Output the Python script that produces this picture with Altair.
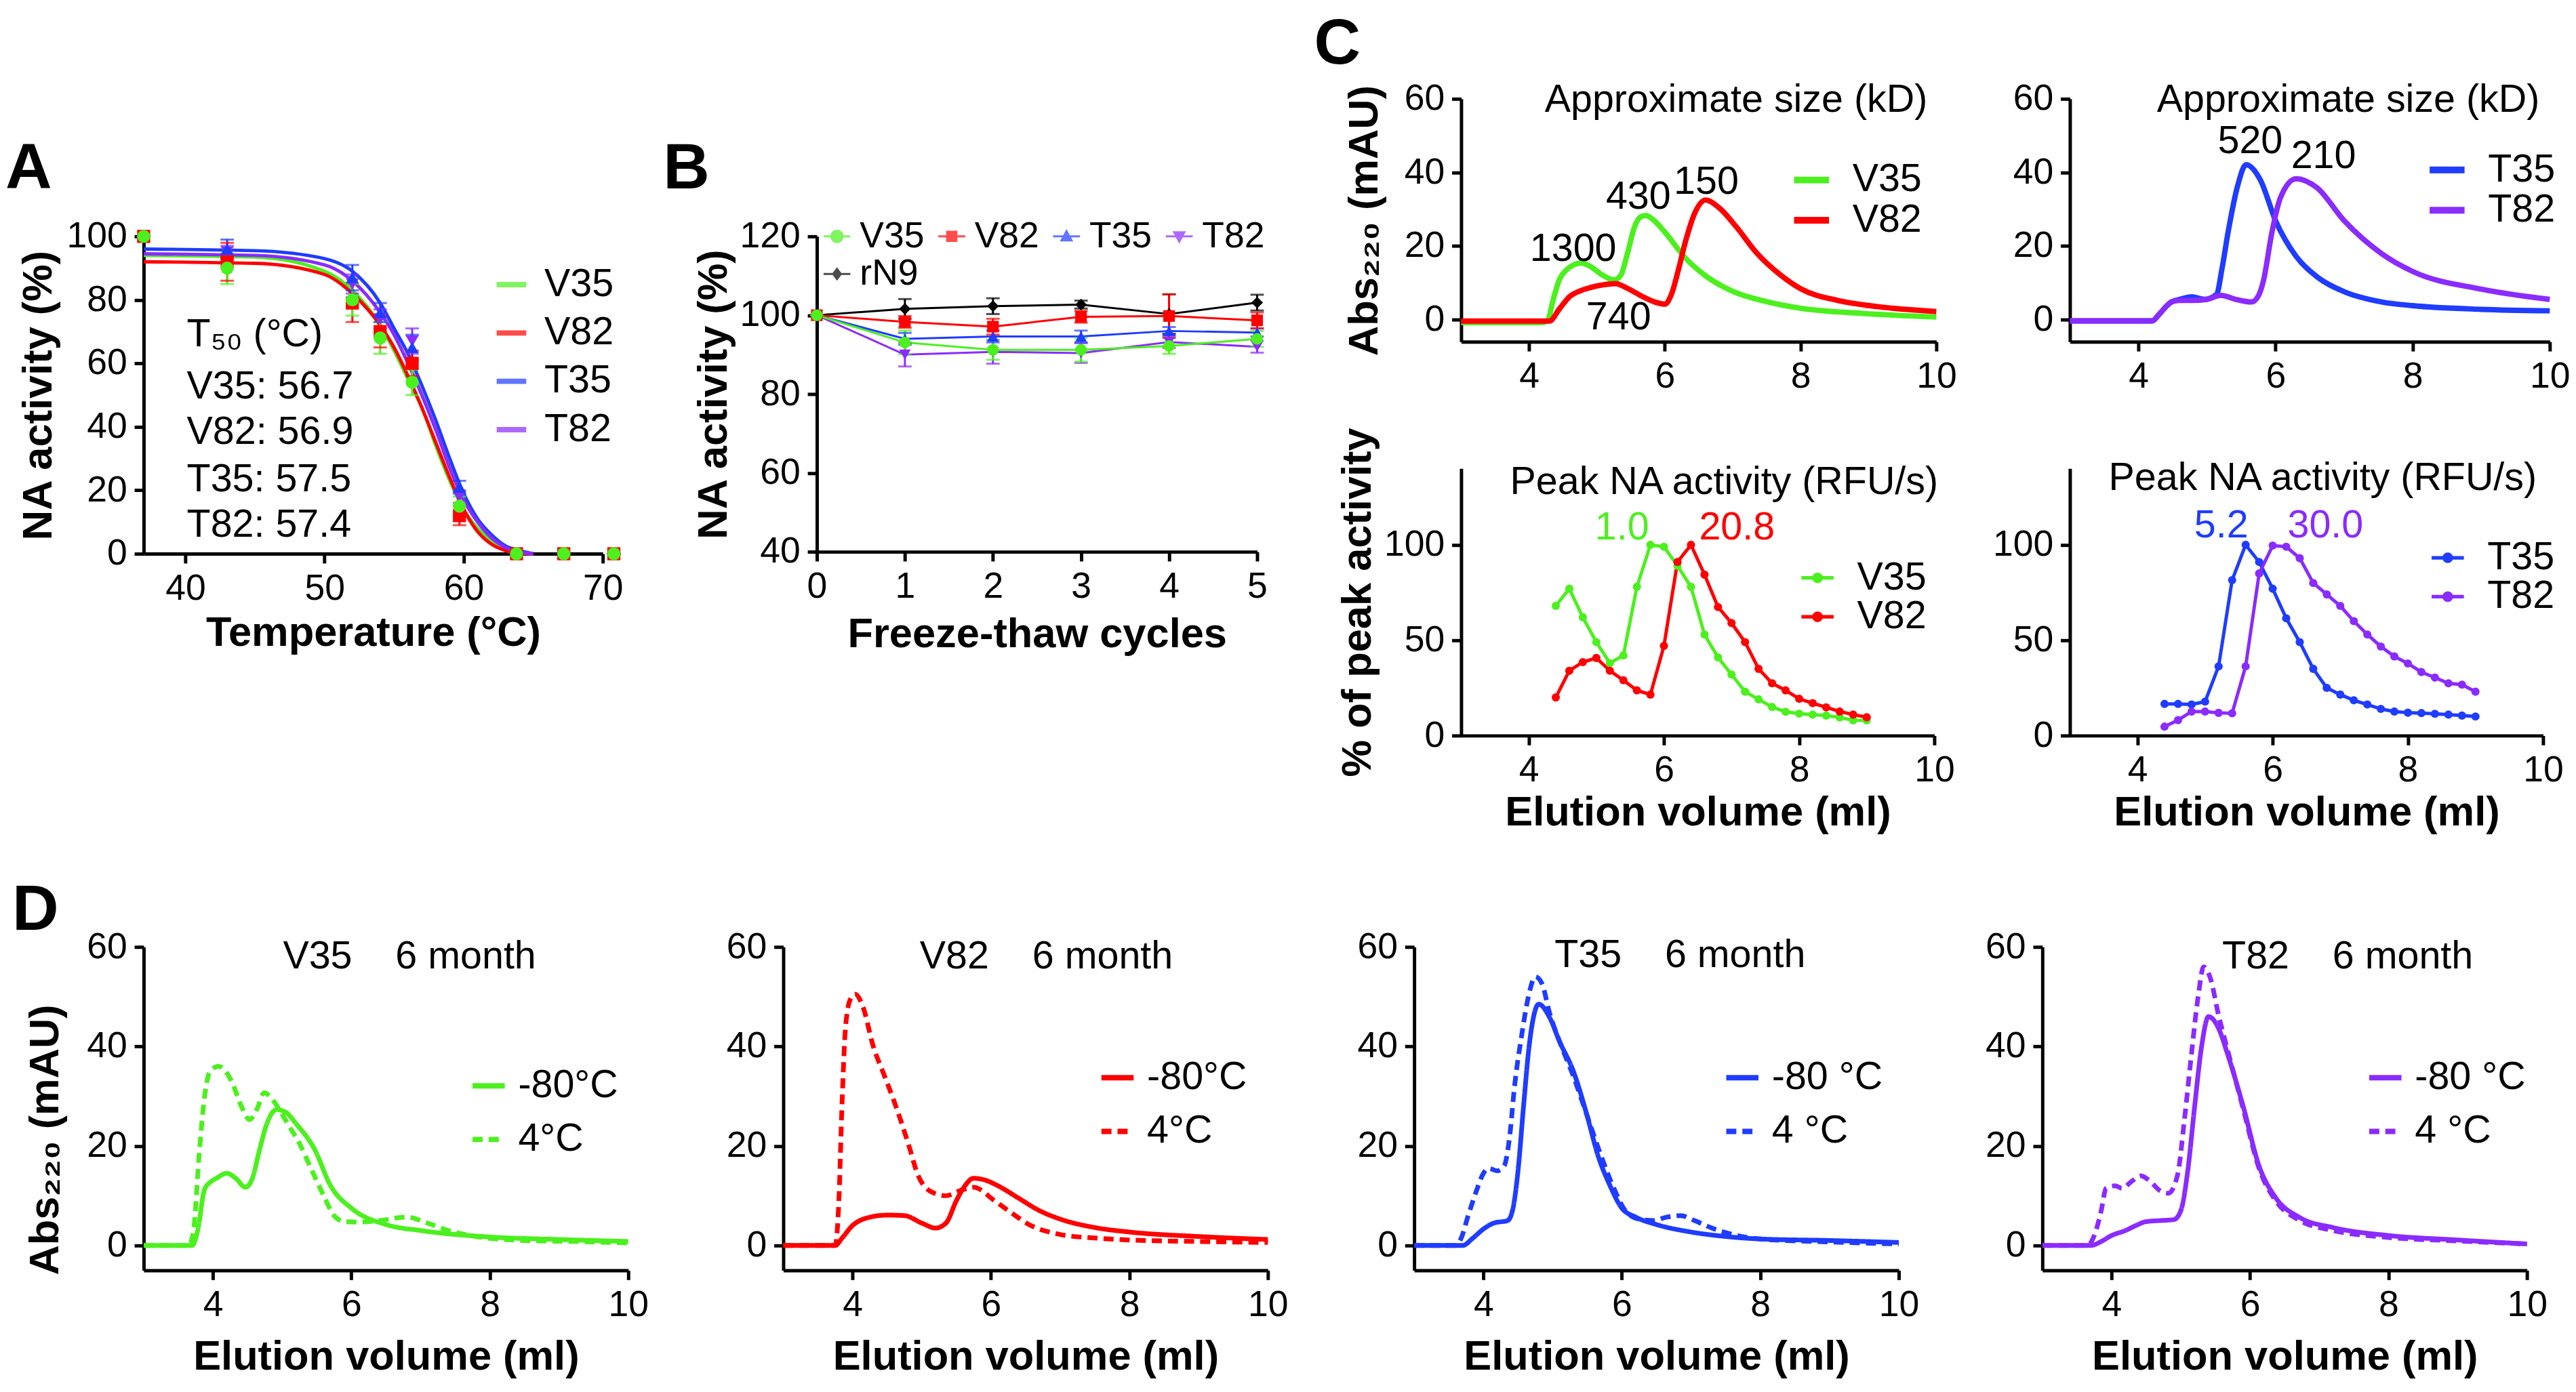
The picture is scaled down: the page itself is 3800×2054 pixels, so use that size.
import math
import altair as alt
import pandas as pd

FONT = "Liberation Sans"
GREEN = "#4CF01E"
RED = "#FF0000"
BLUE = "#1F3CFF"
PURPLE = "#8A2BFF"
BLACK = "#000000"

# ---------------- Panel A : thermal stability ----------------
a_series = ["V35", "V82", "T35", "T82"]
a_colors = [GREEN, RED, BLUE, PURPLE]
a_shapes = ["circle", "square", "triangle-up", "triangle-down"]
a_temp = [37, 43, 52, 54, 56.3, 59.7, 63.8, 67.2, 70.8]
a_v35 = [100, 90, 80, 68, 54, 15, 0, 0, 0]
a_v82 = [100, 92, 79, 70, 60, 12, 0, 0, 0]
a_t35 = [100, 96, 87, 76, 65, 21, 0, 0, 0]
a_t82 = [100, 95, 85, 74, 67, 18, 0, 0, 0]
a_v35_err = [0, 5, 5, 5, 4, 3, 0, 0, 0]
a_v82_err = [0, 6, 6, 5, 4, 3, 0, 0, 0]
a_t35_err = [0, 3, 4, 3, 4, 2, 0, 0, 0]
a_t82_err = [0, 2, 3, 3, 4, 2, 0, 0, 0]
a_fit_t = [37, 45, 50, 52, 54, 55, 56, 57, 58, 59, 60, 61, 62, 63, 64, 65]
a_fit_v35 = [94, 93.5, 89, 83, 72, 64, 55, 46, 34, 23, 14, 8, 4, 1.5, 0.5, 0]
a_fit_v82 = [92, 91.5, 88, 82, 72, 65, 56, 46, 35, 24, 14, 7, 3, 1, 0, 0]
a_fit_t35 = [96, 95.5, 93, 89, 79, 71, 63, 53, 42, 30, 19, 11, 6, 2.5, 1, 0]
a_fit_t82 = [94.5, 94, 91, 86, 76, 69, 60, 50, 39, 27, 17, 10, 5, 2, 0.5, 0]
a_text = ["T\u2085\u2080 (\u00b0C)", "V35: 56.7", "V82: 56.9", "T35: 57.5", "T82: 57.4"]
a_text_x = [40.1, 40.1, 40.1, 40.1, 40.1]
a_text_y = [69, 52.6, 38.3, 23.3, 8.9]

# ---------------- Panel B : freeze-thaw ----------------
b_series = ["V35", "V82", "T35", "T82", "rN9"]
b_colors = [GREEN, RED, BLUE, PURPLE, BLACK]
b_shapes = ["circle", "square", "triangle-up", "triangle-down", "diamond"]
b_cycles = [0, 1, 2, 3, 4, 5]
b_v35 = [100, 93.1, 91.2, 91.2, 92.2, 94.0]
b_v82 = [100, 98.3, 97.1, 99.6, 99.8, 98.7]
b_t35 = [100, 94.0, 94.6, 94.6, 96.0, 95.6]
b_t82 = [100, 90.0, 90.7, 90.4, 93.2, 92.0]
b_rn9 = [100, 101.6, 102.3, 102.7, 100.3, 103.2]
b_v35_err = [0, 3, 2.5, 3, 2, 2]
b_v82_err = [0, 1.5, 2, 1.5, 5.5, 2]
b_t35_err = [0, 1.5, 1.5, 1.5, 1, 1]
b_t82_err = [0, 3, 3, 2.5, 1.5, 1.5]
b_rn9_err = [0, 2.5, 2, 1, 5, 2]

# ---------------- Panel C : SEC traces (top) ----------------
ct_v35_x = [3, 4.2, 4.28, 4.35, 4.45, 4.55, 4.65, 4.77, 4.9, 5.05, 5.25, 5.35, 5.45, 5.55, 5.65, 5.72, 5.85, 6.0, 6.3, 6.6, 7.0, 7.5, 8.0, 8.9, 10]
ct_v35_y = [-0.8, -0.8, 0, 5, 11, 13.5, 14.8, 15.4, 14.5, 12.5, 10.8, 12, 18, 25, 28, 28.3, 26.8, 23.8, 16.8, 11.9, 7.7, 4.9, 3.1, 1.7, 0.7]
ct_v82_x = [3, 4.3, 4.45, 4.6, 4.75, 4.9, 5.1, 5.27, 5.45, 5.67, 5.85, 6.0, 6.1, 6.2, 6.3, 6.45, 6.6, 6.8, 7.05, 7.35, 7.7, 8.0, 8.55, 9.15, 10]
ct_v82_y = [-0.4, -0.4, 3, 6.3, 7.8, 8.7, 9.5, 9.8, 8.5, 6.3, 4.8, 4.2, 7, 13.5, 20.9, 29.3, 32.5, 30.4, 25.3, 18.2, 12.2, 8.4, 5.2, 3.5, 2.2]
ct_t35_x = [3, 4.2, 4.3, 4.4, 4.48, 4.6, 4.78, 4.96, 5.14, 5.22, 5.31, 5.45, 5.57, 5.78, 6.0, 6.3, 6.6, 7.0, 7.55, 8.0, 9.0, 10]
ct_t35_y = [-0.35, -0.35, 1.4, 3.5, 4.8, 5.5, 6.2, 5.5, 6.9, 14, 24, 36.6, 42.1, 37.9, 26.9, 17.2, 11.7, 7.6, 4.8, 3.8, 2.8, 2.4]
ct_t82_x = [3, 4.2, 4.3, 4.4, 4.48, 4.6, 4.78, 5.0, 5.2, 5.42, 5.65, 5.75, 5.82, 5.95, 6.07, 6.3, 6.6, 7.0, 7.55, 8.0, 9.0, 10]
ct_t82_y = [-0.35, -0.35, 1.4, 3.5, 4.8, 5.2, 5.2, 5.5, 6.6, 5.5, 4.8, 6.5, 10.3, 24, 33.1, 38.3, 35.9, 26.9, 17.9, 13.1, 8.3, 5.5]
ctl_labels = ["Approximate size (kD)", "1300", "740", "430", "150"]
ctl_lab_x = [7.05, 4.65, 5.32, 5.61, 6.61]
ctl_lab_y = [59.6, 19.1, 0.5, 33.3, 37.2]
ctr_labels = ["Approximate size (kD)", "520", "210"]
ctr_lab_x = [7.06, 5.63, 6.70]
ctr_lab_y = [59.6, 48.4, 44.2]

# ---------------- Panel C : NA activity of fractions (bottom) ----------------
cb_x = [4.4, 4.6, 4.8, 5.0, 5.2, 5.4, 5.6, 5.8, 6.0, 6.2, 6.4, 6.6, 6.8, 7.0, 7.2, 7.4, 7.6, 7.8, 8.0, 8.2, 8.4, 8.6, 8.8, 9.0]
cb_v35 = [68, 77, 62, 49, 38, 42, 78, 100, 99, 89, 78, 53, 41, 32, 23, 19, 15, 12.5, 11.5, 11, 10.5, 9.5, 8, 8]
cb_v82 = [20, 34, 38.5, 40.7, 34, 29, 23.7, 21.5, 47, 91, 100, 84.4, 67.4, 59, 49, 35, 27.4, 23.7, 19.3, 17, 14.8, 12.6, 11, 9.6]
cb_t35 = [16.6, 16.6, 16.3, 17.8, 36.3, 81.5, 100, 91, 77, 61.5, 49, 35, 25, 21.5, 18.5, 16.3, 14, 12.6, 12, 11.8, 11.4, 11, 10.5, 10]
cb_t82 = [4.7, 8.1, 12.6, 12.6, 11.9, 11.7, 36.3, 85, 99.6, 99, 93, 80, 74, 68, 60, 53, 46.7, 41.5, 37.8, 33.3, 30.4, 27.4, 26.7, 23]
cbl_labels = ["Peak NA activity (RFU/s)", "1.0", "20.8"]
cbl_lab_x = [6.89, 5.38, 7.08]
cbl_lab_y = [132.6, 108.8, 108.8]
cbl_lab_c = [BLACK, GREEN, RED]
cbr_labels = ["Peak NA activity (RFU/s)", "5.2", "30.0"]
cbr_lab_x = [6.74, 5.24, 6.78]
cbr_lab_y = [134.8, 110, 110]
cbr_lab_c = [BLACK, BLUE, PURPLE]

# ---------------- Panel D : 6 month storage ----------------
d1_sx = [3, 3.7, 3.78, 3.88, 3.97, 4.05, 4.2, 4.33, 4.47, 4.57, 4.67, 4.78, 4.92, 5.05, 5.2, 5.47, 5.7, 6.0, 6.5, 7.0, 8.0, 9.0, 10]
d1_sy = [0, 0, 3, 11.3, 12.8, 13.5, 14.5, 13.5, 11.7, 13.5, 19, 24.5, 27.3, 26.8, 24.5, 19.3, 12, 7.5, 4.2, 3, 1.7, 1.2, 0.8]
d1_dx = [3, 3.65, 3.72, 3.8, 3.88, 3.96, 4.08, 4.27, 4.41, 4.53, 4.64, 4.74, 4.85, 4.95, 5.1, 5.25, 5.4, 5.6, 5.75, 5.9, 6.1, 6.4, 6.8, 7.1, 7.4, 7.8, 8.5, 9.2, 10]
d1_dy = [0, 0, 3, 18, 30, 35, 36, 33, 28, 25.3, 27.5, 30.7, 29.5, 27.5, 24, 20.5, 16, 10, 6, 4.8, 4.7, 5.0, 5.7, 4.5, 3, 1.8, 1, 0.8, 0.5]
d2_sx = [3, 3.75, 3.85, 4.0, 4.2, 4.5, 4.75, 5.0, 5.2, 5.35, 5.5, 5.6, 5.75, 5.9, 6.1, 6.4, 6.7, 7.0, 7.5, 8.0, 9.0, 10]
d2_sy = [0, 0, 1.5, 4, 5.5, 6.1, 6, 4.5, 3.5, 4.5, 9, 11.5, 13.5, 13.2, 12, 9.5, 7, 5.3, 3.6, 2.7, 1.8, 1.2]
d2_dx = [3, 3.75, 3.8, 3.85, 3.9, 3.97, 4.04, 4.15, 4.3, 4.45, 4.6, 4.8, 4.95, 5.15, 5.35, 5.55, 5.75, 6.05, 6.3, 6.55, 7.0, 7.5, 8.0, 9.0, 10]
d2_dy = [0, 0, 8, 29, 44, 49.5, 50.5, 48, 40, 34.5, 29, 20.7, 14, 10.7, 10, 11, 11.7, 9, 6.5, 4.2, 2.2, 1.5, 1.1, 0.8, 0.6]
d3_sx = [3, 3.7, 3.85, 4.0, 4.15, 4.35, 4.42, 4.5, 4.58, 4.66, 4.8, 4.95, 5.1, 5.3, 5.5, 5.65, 5.82, 6.0, 6.2, 6.5, 7.0, 7.5, 8.0, 9.0, 10]
d3_sy = [0, 0, 1.5, 3.3, 4.5, 5, 7, 15, 28, 40, 48.5, 46, 41, 35, 26, 18.3, 12.3, 7.5, 5.7, 4.2, 2.7, 1.8, 1.3, 1, 0.6]
d3_dx = [3, 3.6, 3.68, 3.78, 3.9, 4.0, 4.08, 4.2, 4.3, 4.38, 4.45, 4.55, 4.65, 4.75, 4.85, 4.95, 5.1, 5.3, 5.5, 5.7, 5.9, 6.05, 6.25, 6.45, 6.65, 6.85, 7.05, 7.3, 7.6, 8.0, 9.0, 10]
d3_dy = [0, 0, 1.5, 6, 11, 14.5, 15.5, 15, 16, 22, 32, 42, 50, 54, 52.5, 47, 41, 34, 26, 18, 11, 7, 5.3, 5, 5.7, 6, 5, 3.5, 2.2, 1.3, 0.7, 0.3]
d4_sx = [3, 3.7, 3.85, 4.0, 4.2, 4.35, 4.5, 4.7, 4.9, 5.0, 5.1, 5.2, 5.3, 5.4, 5.55, 5.67, 5.9, 6.13, 6.37, 6.72, 7.2, 8.0, 9.0, 10]
d4_sy = [0, 0, 0.8, 2, 3, 4, 4.8, 5, 5.2, 7, 15, 28, 40, 46, 43.5, 38.7, 28, 16, 9.6, 5.6, 3.6, 2, 1.1, 0.3]
d4_dx = [3, 3.65, 3.75, 3.85, 3.92, 4.05, 4.15, 4.3, 4.42, 4.55, 4.7, 4.82, 4.95, 5.05, 5.15, 5.25, 5.33, 5.42, 5.55, 5.7, 5.9, 6.13, 6.37, 6.72, 7.2, 8.0, 9.0, 10]
d4_dy = [0, 0, 2, 7, 11.5, 12, 11.5, 13, 14, 13, 11, 10.5, 14, 25, 38, 50, 56, 54, 46, 38, 27.5, 15.5, 9, 5, 3, 1.6, 0.9, 0.3]
d_names = ["V35", "V82", "T35", "T82"]
d_colors = [GREEN, RED, BLUE, PURPLE]
d_text_x = [6.84, 6.80, 6.84, 7.41]
d_text_y = [58, 58, 58.3, 58]
d_legend_labels = [["-80\u00b0C", "4\u00b0C"], ["-80\u00b0C", "4\u00b0C"],
                   ["-80 \u00b0C", "4 \u00b0C"], ["-80 \u00b0C", "4 \u00b0C"]]

# ---------------- helpers ----------------
NB = "\u00a0"
TXT = 58
IND = dict(color="independent", shape="independent", strokeDash="independent")


def axis(values, title=None, **kw):
    base = dict(values=values, title=title, domainColor=BLACK, domainWidth=5,
                tickColor=BLACK, tickWidth=5, tickSize=14,
                labelFont=FONT, labelFontSize=54, labelColor=BLACK, labelPadding=11,
                titleFont=FONT, titleFontSize=62, titleFontWeight="bold", titleColor=BLACK,
                grid=False, labelOverlap=False, labelFlush=False)
    base.update(kw)
    return alt.Axis(**base)


def letter(t, dx, offset):
    return alt.TitleParams(text=t, anchor="start", frame="bounds", font=FONT, fontSize=96,
                           fontWeight="bold", color=BLACK, dx=dx, offset=offset, baseline="bottom")


def long_df(xs_list, ys_list, names, colors, shapes=None, errs=None):
    rows = []
    for i, (xs, ys) in enumerate(zip(xs_list, ys_list)):
        for j, (x, y) in enumerate(zip(xs, ys)):
            r = {"x": x, "y": y, "s": names[i], "c": colors[i], "o": i}
            if shapes is not None:
                r["shp"] = shapes[i]
            if errs is not None:
                r["lo"] = y - errs[i][j]
                r["hi"] = y + errs[i][j]
            rows.append(r)
    return pd.DataFrame(rows)


def text_df(labels, xs, ys, colors=None):
    return pd.DataFrame({"x": xs, "y": ys, "t": labels,
                         "c": colors if colors is not None else [BLACK] * len(labels)})


def poly(points):
    return "M" + "L".join(f"{x:.3f},{y:.3f}" for x, y in points) + "Z"


def stub(w):
    return poly([(-1, -w), (1, -w), (1, w), (-1, w)])


def circle_path(r, n=20):
    return poly([(r * math.cos(2 * math.pi * k / n), r * math.sin(2 * math.pi * k / n)) for k in range(n)])


def hc(*charts, spacing):
    return alt.hconcat(*charts, spacing=spacing).resolve_scale(**IND).resolve_legend(
        color="independent", shape="independent", strokeDash="independent")


def vc(*charts, spacing):
    return alt.vconcat(*charts, spacing=spacing).resolve_scale(**IND).resolve_legend(
        color="independent", shape="independent", strokeDash="independent")


# ---------------- Panel A chart ----------------
xA = alt.Scale(domain=[37, 70], nice=False, zero=False)
yA = alt.Scale(domain=[0, 100], nice=False)
axA_x = axis([40, 50, 60, 70], "Temperature (\u00b0C)", titlePadding=9)
axA_y = axis([0, 20, 40, 60, 80, 100], "NA activity (%)", minExtent=118, titlePadding=7)

dfA_fit = long_df([a_fit_t] * 4, [a_fit_v35, a_fit_v82, a_fit_t35, a_fit_t82], a_series, a_colors)
order = [3, 2, 1, 0]
dfA_pts = long_df([a_temp] * 4, [[a_v35, a_v82, a_t35, a_t82][i] for i in order],
                  [a_series[i] for i in order], [a_colors[i] for i in order],
                  [a_shapes[i] for i in order],
                  [[a_v35_err, a_v82_err, a_t35_err, a_t82_err][i] for i in order])
dfA_txt = text_df(a_text, a_text_x, a_text_y)

A_curves = alt.Chart(dfA_fit).mark_line(strokeWidth=5, interpolate="monotone").encode(
    x=alt.X("x:Q", scale=xA, axis=axA_x),
    y=alt.Y("y:Q", scale=yA, axis=axA_y),
    color=alt.Color("s:N", scale=alt.Scale(domain=a_series, range=a_colors),
                    legend=alt.Legend(orient="none", legendX=519, legendY=43, title=None,
                                      symbolType="stroke", symbolSize=1936, symbolStrokeWidth=8,
                                      labelFontSize=TXT, labelFont=FONT, labelColor=BLACK,
                                      labelLimit=400,
                                      rowPadding=14, labelOffset=20, padding=0)),
)
A_err = alt.Chart(dfA_pts).mark_rule(strokeWidth=3).encode(
    x=alt.X("x:Q", scale=xA, axis=axA_x),
    y=alt.Y("lo:Q", scale=yA, axis=axA_y), y2="hi:Q",
    color=alt.Color("c:N", scale=None))
A_caph = alt.Chart(dfA_pts).mark_tick(orient="horizontal", size=20, thickness=3).encode(
    x=alt.X("x:Q", scale=xA, axis=axA_x), y=alt.Y("hi:Q", scale=yA, axis=axA_y),
    color=alt.Color("c:N", scale=None))
A_capl = alt.Chart(dfA_pts).mark_tick(orient="horizontal", size=20, thickness=3).encode(
    x=alt.X("x:Q", scale=xA, axis=axA_x), y=alt.Y("lo:Q", scale=yA, axis=axA_y),
    color=alt.Color("c:N", scale=None))
A_pts = alt.Chart(dfA_pts).mark_point(filled=True, opacity=1, size=380).encode(
    x=alt.X("x:Q", scale=xA, axis=axA_x), y=alt.Y("y:Q", scale=yA, axis=axA_y),
    color=alt.Color("c:N", scale=None), shape=alt.Shape("shp:N", scale=None),
    order=alt.Order("o:Q"))
A_txt = alt.Chart(dfA_txt).mark_text(font=FONT, fontSize=TXT, align="left", baseline="middle").encode(
    x=alt.X("x:Q", scale=xA, axis=axA_x), y=alt.Y("y:Q", scale=yA, axis=axA_y),
    text="t:N", color=alt.Color("c:N", scale=None))
panelA = alt.layer(A_curves, A_err, A_caph, A_capl, A_pts, A_txt).properties(
    width=684, height=473, title=letter("A", -18, -71))

# ---------------- Panel B chart ----------------
xB = alt.Scale(domain=[0, 5], nice=False, zero=False)
yB = alt.Scale(domain=[40, 120], nice=False, zero=False)
axB_x = axis([0, 1, 2, 3, 4, 5], "Freeze-thaw cycles", titlePadding=14)
axB_y = axis([40, 60, 80, 100, 120], "NA activity (%)", minExtent=114, titlePadding=7)
b_all = [b_v35, b_v82, b_t35, b_t82, b_rn9]
b_all_err = [b_v35_err, b_v82_err, b_t35_err, b_t82_err, b_rn9_err]
b_order = [4, 3, 2, 1, 0]
dfB = long_df([b_cycles] * 5, [b_all[i] for i in b_order], [b_series[i] for i in b_order],
              [b_colors[i] for i in b_order], [b_shapes[i] for i in b_order],
              [b_all_err[i] for i in b_order])
b_paths = [
    stub(0.075) + circle_path(0.5),
    stub(0.075) + poly([(-0.42, -0.42), (0.42, -0.42), (0.42, 0.42), (-0.42, 0.42)]),
    stub(0.075) + poly([(0, -0.55), (0.5, 0.38), (-0.5, 0.38)]),
    stub(0.075) + poly([(0, 0.55), (-0.5, -0.38), (0.5, -0.38)]),
    stub(0.075) + poly([(0, -0.5), (0.38, 0), (0, 0.5), (-0.38, 0)]),
]
legB = alt.Legend(orient="none", legendX=3, legendY=-27, title=None, columns=4,
                  direction="horizontal", labelLimit=400,
                  columnPadding=13, rowPadding=2, symbolSize=1600, symbolStrokeWidth=0,
                  symbolOpacity=1, labelFontSize=54, labelFont=FONT, labelColor=BLACK,
                  labelOffset=7, padding=0)
B_lines = alt.Chart(dfB).mark_line(strokeWidth=3).encode(
    x=alt.X("x:Q", scale=xB, axis=axB_x), y=alt.Y("y:Q", scale=yB, axis=axB_y),
    color=alt.Color("c:N", scale=None), detail="s:N")
B_err = alt.Chart(dfB).mark_rule(strokeWidth=3).encode(
    x=alt.X("x:Q", scale=xB, axis=axB_x), y=alt.Y("lo:Q", scale=yB, axis=axB_y), y2="hi:Q",
    color=alt.Color("c:N", scale=None))
B_caph = alt.Chart(dfB).mark_tick(orient="horizontal", size=20, thickness=3).encode(
    x=alt.X("x:Q", scale=xB, axis=axB_x), y=alt.Y("hi:Q", scale=yB, axis=axB_y),
    color=alt.Color("c:N", scale=None))
B_capl = alt.Chart(dfB).mark_tick(orient="horizontal", size=20, thickness=3).encode(
    x=alt.X("x:Q", scale=xB, axis=axB_x), y=alt.Y("lo:Q", scale=yB, axis=axB_y),
    color=alt.Color("c:N", scale=None))
B_pts = alt.Chart(dfB).mark_point(filled=True, opacity=1, size=300).encode(
    x=alt.X("x:Q", scale=xB, axis=axB_x), y=alt.Y("y:Q", scale=yB, axis=axB_y),
    color=alt.Color("c:N", scale=None), shape=alt.Shape("shp:N", scale=None))
B_leg = alt.Chart(dfB).mark_point(filled=True, opacity=1, size=1600).encode(
    x=alt.X("x:Q", scale=xB, axis=axB_x), y=alt.Y("y:Q", scale=yB, axis=axB_y),
    color=alt.Color("s:N", scale=alt.Scale(domain=b_series, range=b_colors), legend=legB),
    shape=alt.Shape("s:N", scale=alt.Scale(domain=b_series, range=b_paths), legend=legB),
).transform_filter("false")
panelB = alt.layer(B_lines, B_err, B_caph, B_capl, B_pts, B_leg).properties(
    width=656, height=470, title=letter("B", -44, -71))

# ---------------- Panel C top ----------------
xC = alt.Scale(domain=[3, 10], nice=False, zero=False)
yCT = alt.Scale(domain=[-6, 60], nice=False, zero=False)


def ct_panel(xs_list, ys_list, names, colors, lab, lab_x, lab_y, legx, legy, ytitle, title, width):
    df = long_df(xs_list, ys_list, names, colors)
    ax_x = axis([4, 6, 8, 10], None)
    ax_y = axis([0, 20, 40, 60], ytitle, minExtent=105, titlePadding=7)
    lines = alt.Chart(df).mark_line(strokeWidth=8, interpolate="monotone").encode(
        x=alt.X("x:Q", scale=xC, axis=ax_x), y=alt.Y("y:Q", scale=yCT, axis=ax_y),
        color=alt.Color("s:N", scale=alt.Scale(domain=names, range=colors),
                        legend=alt.Legend(orient="none", legendX=legx, legendY=legy, title=None,
                                          symbolType="stroke", symbolSize=2704, symbolStrokeWidth=10,
                                          labelFontSize=TXT, labelFont=FONT, labelColor=BLACK,
                                          labelLimit=400,
                                          rowPadding=-2, labelOffset=30, padding=0)))
    txt = alt.Chart(text_df(lab, lab_x, lab_y)).mark_text(
        font=FONT, fontSize=TXT, align="center", baseline="middle").encode(
        x=alt.X("x:Q", scale=xC, axis=ax_x), y=alt.Y("y:Q", scale=yCT, axis=ax_y),
        text="t:N", color=alt.Color("c:N", scale=None))
    return alt.layer(lines, txt).properties(width=width, height=362, title=title)


CTL = ct_panel([ct_v35_x, ct_v82_x], [ct_v35_y, ct_v82_y], ["V35", "V82"], [GREEN, RED],
               ctl_labels, ctl_lab_x, ctl_lab_y, 491, 90, "Abs\u2082\u2082\u2080 (mAU)",
               letter("C", -44, -91), 708)
CTR = ct_panel([ct_t35_x, ct_t82_x], [ct_t35_y, ct_t82_y], ["T35", "T82"], [BLUE, PURPLE],
               ctr_labels, ctr_lab_x, ctr_lab_y, 531, 75, None, letter(" ", 0, -91), 715)

# ---------------- Panel C bottom ----------------
yCB = alt.Scale(domain=[0, 140], nice=False, zero=False)


def cb_panel(ys_list, names, colors, lab, lab_x, lab_y, lab_c, legx, legy, ytitle):
    df = long_df([cb_x] * 2, ys_list, names, colors)
    ax_x = axis([4, 6, 8, 10], "Elution volume (ml)", titlePadding=5)
    ax_y = axis([0, 50, 100], ytitle, minExtent=109, titlePadding=7)
    paths = [stub(0.11) + circle_path(0.33)] * 2
    leg = alt.Legend(orient="none", legendX=legx, legendY=legy, title=None,
                     symbolSize=2304, symbolStrokeWidth=0, symbolOpacity=1,
                     labelFontSize=TXT, labelFont=FONT, labelColor=BLACK, labelLimit=400,
                     rowPadding=-2, labelOffset=30, padding=0)
    lines = alt.Chart(df).mark_line(strokeWidth=5).encode(
        x=alt.X("x:Q", scale=xC, axis=ax_x), y=alt.Y("y:Q", scale=yCB, axis=ax_y),
        color=alt.Color("c:N", scale=None), detail="s:N")
    pts = alt.Chart(df).mark_point(filled=True, opacity=1, size=150).encode(
        x=alt.X("x:Q", scale=xC, axis=ax_x), y=alt.Y("y:Q", scale=yCB, axis=ax_y),
        color=alt.Color("c:N", scale=None))
    legl = alt.Chart(df).mark_point(filled=True, opacity=1, size=2304).encode(
        x=alt.X("x:Q", scale=xC, axis=ax_x), y=alt.Y("y:Q", scale=yCB, axis=ax_y),
        color=alt.Color("s:N", scale=alt.Scale(domain=names, range=colors), legend=leg),
        shape=alt.Shape("s:N", scale=alt.Scale(domain=names, range=paths), legend=leg),
    ).transform_filter("false")
    txt = alt.Chart(text_df(lab, lab_x, lab_y, lab_c)).mark_text(
        font=FONT, fontSize=TXT, align="center", baseline="middle").encode(
        x=alt.X("x:Q", scale=xC, axis=ax_x), y=alt.Y("y:Q", scale=yCB, axis=ax_y),
        text="t:N", color=alt.Color("c:N", scale=None))
    return alt.layer(lines, pts, legl, txt).properties(width=705, height=398)


CBL = cb_panel([cb_v35, cb_v82], ["V35", "V82"], [GREEN, RED], cbl_labels, cbl_lab_x,
               cbl_lab_y, cbl_lab_c, 502, 134, "% of peak activity")
CBR = cb_panel([cb_t35, cb_t82], ["T35", "T82"], [BLUE, PURPLE], cbr_labels, cbr_lab_x,
               cbr_lab_y, cbr_lab_c, 534, 104, None)

# ---------------- Panel D ----------------
yD = alt.Scale(domain=[-5, 60], nice=False, zero=False)
d_data = [(d1_sx, d1_sy, d1_dx, d1_dy), (d2_sx, d2_sy, d2_dx, d2_dy),
          (d3_sx, d3_sy, d3_dx, d3_dy), (d4_sx, d4_sy, d4_dx, d4_dy)]
d_legx = [485, 469, 460, 482]
d_legy = [178, 166, 166, 166]


def d_panel(i):
    sx, sy, dxs, dys = d_data[i]
    labs = d_legend_labels[i]
    col = d_colors[i]
    df = long_df([sx, dxs], [sy, dys], labs, [col, col])
    ax_x = axis([4, 6, 8, 10], "Elution volume (ml)", titlePadding=19)
    if i == 0:
        ax_y = axis([0, 20, 40, 60], "Abs\u2082\u2082\u2080 (mAU)", minExtent=108, titlePadding=7,
                    titleY=287)
    else:
        ax_y = axis([0, 20, 40, 60], None, minExtent=108, titlePadding=7)
    lines = alt.Chart(df).mark_line(strokeWidth=7, interpolate="monotone", color=col).encode(
        x=alt.X("x:Q", scale=xC, axis=ax_x), y=alt.Y("y:Q", scale=yD, axis=ax_y),
        strokeDash=alt.StrokeDash("s:N", scale=alt.Scale(domain=labs, range=[[1, 0], [15, 9]]),
                                  legend=alt.Legend(orient="none", legendX=d_legx[i], legendY=d_legy[i],
                                                    title=None, symbolType="stroke", symbolSize=2304,
                                                    symbolStrokeWidth=8, symbolStrokeColor=col,
                                                    labelFontSize=TXT, labelFont=FONT, labelColor=BLACK,
                                                    labelLimit=400,
                                                    rowPadding=22, labelOffset=15, padding=0)))
    t = d_names[i] + NB * 4 + "6 month"
    txt = alt.Chart(text_df([t], [d_text_x[i]], [d_text_y[i]])).mark_text(
        font=FONT, fontSize=TXT, align="center", baseline="middle").encode(
        x=alt.X("x:Q", scale=xC, axis=ax_x), y=alt.Y("y:Q", scale=yD, axis=ax_y),
        text="t:N", color=alt.Color("c:N", scale=None))
    ttl = letter("D", -18, -117) if i == 0 else letter(" ", 0, -117)
    return alt.layer(lines, txt).properties(width=722, height=482, title=ttl)


D_row = hc(hc(d_panel(0), d_panel(1), spacing=92), hc(d_panel(2), d_panel(3), spacing=75), spacing=79)

# ---------------- layout ----------------
SP = 55
spacer = alt.Chart(pd.DataFrame({"v": [0]})).mark_rule(color="white", strokeWidth=1).encode(
    x=alt.value(0), y=alt.value(0), y2=alt.value(SP)).properties(width=1, height=SP)
AB = vc(spacer, hc(panelA, panelB, spacing=58), spacing=0)
C_sec = vc(hc(CTL, CTR, spacing=63), hc(CBL, CBR, spacing=55), spacing=48)
top = hc(AB, C_sec, spacing=69)

chart = vc(top, D_row, spacing=67).properties(padding=0).configure(
    font=FONT).configure_view(stroke=None).configure_legend(labelFont=FONT)

chart.save("out.html", embed_options={"renderer": "svg", "actions": False})
